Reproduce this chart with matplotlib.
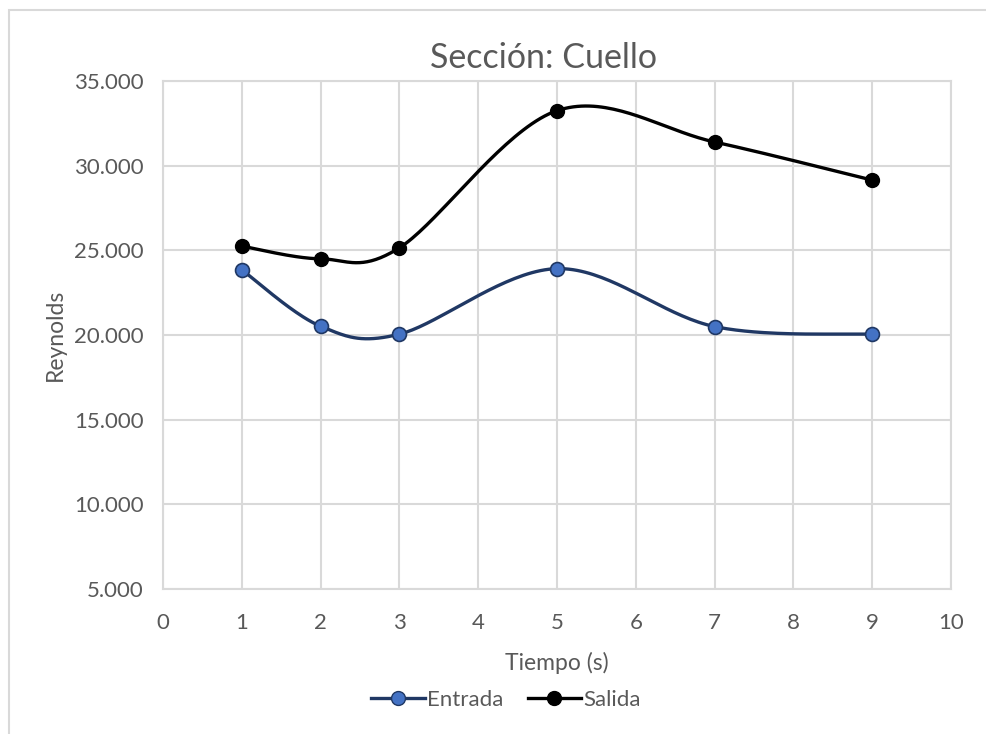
import matplotlib.pyplot as plt
import numpy as np
from matplotlib.patches import Rectangle
from matplotlib.ticker import FuncFormatter

plt.rcParams['font.family'] = ['Lato', 'DejaVu Sans']

# Data
tiempo = [1, 2, 3, 5, 7, 9]
entrada = [23850, 20520, 20050, 23920, 20500, 20050]
salida = [25250, 24500, 25150, 33250, 31400, 29150]

TEXT = "#595959"
GRID = "#D9D9D9"


def excel_smooth(x, y, n=40):
    """Bezier spline through the points, like Excel's smoothed line."""
    x = np.asarray(x, float)
    y = np.asarray(y, float)
    px = np.concatenate([[x[0]], x, [x[-1]]])
    py = np.concatenate([[y[0]], y, [y[-1]]])
    xs, ys = [], []
    t = np.linspace(0, 1, n)
    for i in range(1, len(px) - 2):
        p0 = np.array([px[i], py[i]])
        p3 = np.array([px[i + 1], py[i + 1]])
        c1 = p0 + (np.array([px[i + 1], py[i + 1]]) - np.array([px[i - 1], py[i - 1]])) / 6
        c2 = p3 - (np.array([px[i + 2], py[i + 2]]) - np.array([px[i], py[i]])) / 6
        b = ((1 - t) ** 3)[:, None] * p0 + (3 * (1 - t) ** 2 * t)[:, None] * c1 \
            + (3 * (1 - t) * t ** 2)[:, None] * c2 + (t ** 3)[:, None] * p3
        xs.extend(b[:, 0])
        ys.extend(b[:, 1])
    return xs, ys


fig = plt.figure(figsize=(9.86, 7.34), dpi=100)
ax = fig.add_axes([0.1653, 0.1975, 0.7992, 0.6921])

# outer chart border
fig.patches.append(Rectangle((9 / 986, -0.01), 1.0, 1 - 10 / 734 + 0.01,
                             transform=fig.transFigure, fill=False,
                             edgecolor=GRID, linewidth=1.5))

sx, sy = excel_smooth(tiempo, entrada)
ax.plot(sx, sy, color="#203864", lw=2.4, zorder=3)
ax.plot(tiempo, entrada, "o", ms=10, mfc="#4472C4", mec="#203864", mew=1.2, zorder=4)

sx, sy = excel_smooth(tiempo, salida)
ax.plot(sx, sy, color="black", lw=2.4, zorder=3)
ax.plot(tiempo, salida, "o", ms=10, mfc="black", mec="black", zorder=4)

ax.set_xlim(0, 10)
ax.set_ylim(5000, 35000)
ax.set_xticks(range(0, 11))
ax.set_yticks(range(5000, 35001, 5000))
ax.yaxis.set_major_formatter(FuncFormatter(lambda v, p: f"{int(v):,}".replace(",", ".")))
ax.grid(True, color=GRID, lw=1.5)
ax.set_axisbelow(True)
for s in ax.spines.values():
    s.set_color(GRID)
    s.set_linewidth(1.5)
ax.tick_params(axis="x", length=0, labelsize=16, colors=TEXT, pad=17)
ax.tick_params(axis="y", length=0, labelsize=16, colors=TEXT, pad=14)

fig.text(543 / 986, 1 - 58 / 734, "Sección: Cuello", fontsize=24.5, color=TEXT,
         ha="center", va="center")
ax.set_xlabel("Tiempo (s)", fontsize=16.5, color=TEXT, labelpad=14)
ax.set_ylabel("Reynolds", fontsize=16.5, color=TEXT, labelpad=6)

h1, = ax.plot([], [], "-o", color="#203864", lw=2.4, ms=10, mfc="#4472C4", mec="#203864")
h2, = ax.plot([], [], "-o", color="black", lw=2.4, ms=10, mfc="black")
fig.legend([h1, h2], ["Entrada", "Salida"], loc="center", bbox_to_anchor=(506 / 986, 1 - 700 / 734),
           ncol=2, frameon=False, fontsize=16, labelcolor=TEXT, handlelength=2.4,
           handletextpad=0.1, columnspacing=1.1)

fig.savefig("out.png", dpi=100)
